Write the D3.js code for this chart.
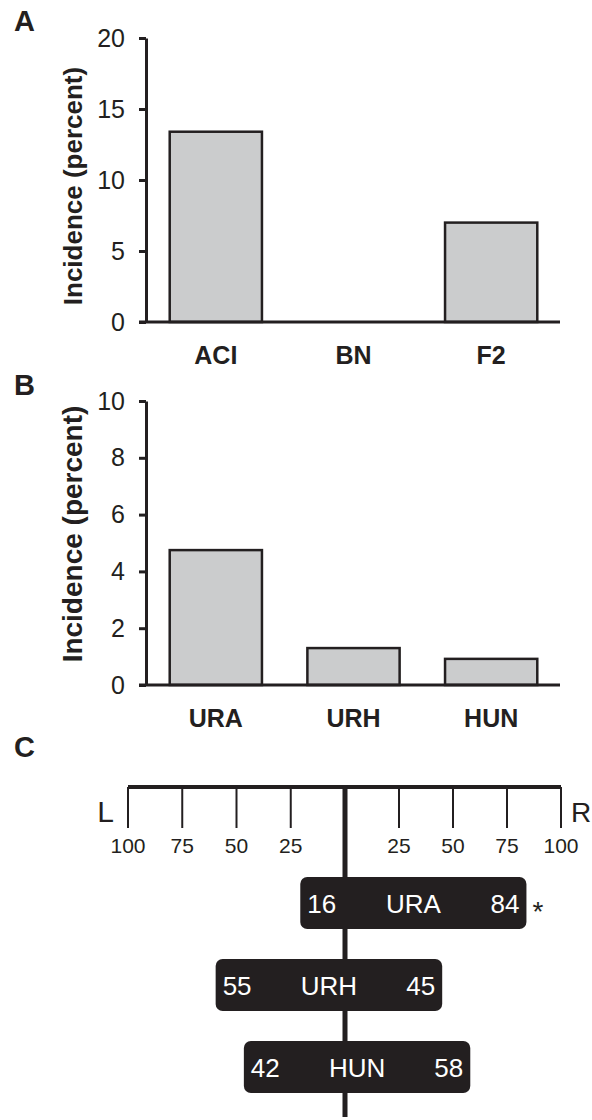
<!DOCTYPE html>
<html>
<head>
<meta charset="utf-8">
<script src="https://cdn.jsdelivr.net/npm/d3@7"></script>
<style>
    body { margin: 0; background: #fff; }
    svg { display: block; font-family: "Liberation Sans", Arial, sans-serif; }
</style>
</head>
<body>
<div id="chart"></div>
<script>
// Panel A data
const strainsA = ['ACI', 'BN', 'F2'];
const incidenceA = [13.4, 0, 7.0];
const ticksA = [0, 5, 10, 15, 20];

// Panel B data
const strainsB = ['URA', 'URH', 'HUN'];
const incidenceB = [4.75, 1.3, 0.92];
const ticksB = [0, 2, 4, 6, 8, 10];

// Panel C data (left / right percentages)
const groupsC = ['URA', 'URH', 'HUN'];
const leftPct = [16, 55, 42];
const rightPct = [84, 45, 58];
const signifC = ['*', '', ''];
const ticksC = [25, 50, 75, 100];

const INK = '#231f20';
const BAR_FILL = '#cbcccd';
const WIDTH = 592;
const HEIGHT = 1120;

const svg = d3.select('#chart')
    .append('svg')
    .attr('width', WIDTH)
    .attr('height', HEIGHT);

const x = d3.scaleBand()
    .range([147, 560])
    .paddingInner(0.33)
    .paddingOuter(0.165);

function drawBarPanel(cfg) {
    const { letter, letterY, cats, values, ticks, yMax, top, bottom, titleY, titleSize, tickSize } = cfg;
    const xs = x.copy().domain(cats);
    const y = d3.scaleLinear().domain([0, yMax]).range([bottom, top]);
    const g = svg.append('g');

    g.append('text')
        .attr('x', 14)
        .attr('y', letterY)
        .attr('font-size', 29)
        .attr('font-weight', 'bold')
        .attr('fill', INK)
        .text(letter);

    // bars
    g.selectAll('rect.bar')
        .data(values)
        .join('rect')
        .attr('class', 'bar')
        .attr('x', (d, i) => xs(cats[i]))
        .attr('width', xs.bandwidth())
        .attr('y', d => y(d))
        .attr('height', d => bottom - y(d))
        .attr('fill', BAR_FILL)
        .attr('stroke', INK)
        .attr('stroke-width', d => d > 0 ? 2.5 : 0);

    // y axis
    const yAxis = g.append('g')
        .attr('transform', 'translate(146,0)')
        .call(d3.axisLeft(y).tickValues(ticks).tickSize(7).tickSizeOuter(0).tickPadding(14));
    yAxis.select('.domain').attr('stroke', INK).attr('stroke-width', 3);
    yAxis.selectAll('.tick line').attr('stroke', INK).attr('stroke-width', 3);
    yAxis.selectAll('.tick text')
        .attr('font-size', tickSize)
        .attr('font-family', '"Liberation Sans", Arial, sans-serif')
        .attr('fill', INK);

    // x axis
    const xAxis = g.append('g')
        .attr('transform', `translate(0,${bottom})`)
        .call(d3.axisBottom(xs).tickSize(0).tickPadding(24));
    xAxis.select('.domain').attr('stroke', INK).attr('stroke-width', 3)
        .attr('d', `M139,0H560`);
    xAxis.selectAll('.tick text')
        .attr('font-size', 25)
        .attr('font-weight', 'bold')
        .attr('font-family', '"Liberation Sans", Arial, sans-serif')
        .attr('fill', INK);

    g.append('text')
        .attr('transform', `translate(82,${titleY}) rotate(-90)`)
        .attr('text-anchor', 'middle')
        .attr('font-size', titleSize)
        .attr('font-weight', 'bold')
        .attr('fill', INK)
        .text('Incidence (percent)');
}

drawBarPanel({
    letter: 'A', letterY: 31, cats: strainsA, values: incidenceA, ticks: ticksA,
    yMax: 20, top: 38, bottom: 322, titleY: 186, titleSize: 26, tickSize: 25
});
drawBarPanel({
    letter: 'B', letterY: 395, cats: strainsB, values: incidenceB, ticks: ticksB,
    yMax: 10, top: 401, bottom: 685, titleY: 534, titleSize: 28, tickSize: 25
});

// Panel C
const gC = svg.append('g');
gC.append('text')
    .attr('x', 14)
    .attr('y', 757)
    .attr('font-size', 29)
    .attr('font-weight', 'bold')
    .attr('fill', INK)
    .text('C');

const CX = 345;
const TOP_Y = 787;
const xL = d3.scaleLinear().domain([0, 100]).range([CX, 128]);
const xR = d3.scaleLinear().domain([0, 100]).range([CX, 561]);
const rowY = d3.scalePoint().domain(groupsC).range([903, 1067]);

// top bar and centre line
gC.append('line')
    .attr('x1', xL(100)).attr('x2', xR(100))
    .attr('y1', TOP_Y).attr('y2', TOP_Y)
    .attr('stroke', INK).attr('stroke-width', 4);
gC.append('line')
    .attr('x1', CX).attr('x2', CX)
    .attr('y1', TOP_Y - 2).attr('y2', 1117)
    .attr('stroke', INK).attr('stroke-width', 5);

const tickData = ticksC.map(v => ({ v, x: xL(v) })).concat(ticksC.map(v => ({ v, x: xR(v) })));
gC.selectAll('line.tickC')
    .data(tickData)
    .join('line')
    .attr('class', 'tickC')
    .attr('x1', d => d.x).attr('x2', d => d.x)
    .attr('y1', TOP_Y).attr('y2', 828)
    .attr('stroke', INK).attr('stroke-width', 2);
gC.selectAll('text.tickC')
    .data(tickData)
    .join('text')
    .attr('class', 'tickC')
    .attr('x', d => d.x)
    .attr('y', 853)
    .attr('text-anchor', 'middle')
    .attr('font-size', 21)
    .attr('fill', INK)
    .text(d => d.v);

gC.append('text')
    .attr('x', 114).attr('y', 822)
    .attr('text-anchor', 'end')
    .attr('font-size', 30)
    .attr('fill', INK)
    .text('L');
gC.append('text')
    .attr('x', 571).attr('y', 822)
    .attr('font-size', 28)
    .attr('fill', INK)
    .text('R');

// boxes
const BOX_H = 52;
const PAD = 10;
const rows = gC.selectAll('g.row')
    .data(groupsC)
    .join('g')
    .attr('class', 'row')
    .attr('transform', d => `translate(0,${rowY(d)})`);

rows.append('rect')
    .attr('x', (d, i) => xL(leftPct[i]) - PAD)
    .attr('width', (d, i) => xR(rightPct[i]) - xL(leftPct[i]) + PAD)
    .attr('y', -BOX_H / 2)
    .attr('height', BOX_H)
    .attr('rx', 7)
    .attr('fill', INK);

rows.append('text')
    .attr('x', (d, i) => xL(leftPct[i]) - PAD + 7)
    .attr('y', 9.5)
    .attr('font-size', 26)
    .attr('fill', '#fff')
    .text((d, i) => leftPct[i]);
rows.append('text')
    .attr('x', (d, i) => (xL(leftPct[i]) - PAD + xR(rightPct[i])) / 2)
    .attr('y', 9.5)
    .attr('text-anchor', 'middle')
    .attr('font-size', 26)
    .attr('fill', '#fff')
    .text(d => d);
rows.append('text')
    .attr('x', (d, i) => xR(rightPct[i]) - 7)
    .attr('y', 9.5)
    .attr('text-anchor', 'end')
    .attr('font-size', 26)
    .attr('fill', '#fff')
    .text((d, i) => rightPct[i]);
rows.append('text')
    .attr('x', (d, i) => xR(rightPct[i]) + 6)
    .attr('y', 18)
    .attr('font-size', 28)
    .attr('fill', INK)
    .text((d, i) => signifC[i]);
</script>
</body>
</html>
